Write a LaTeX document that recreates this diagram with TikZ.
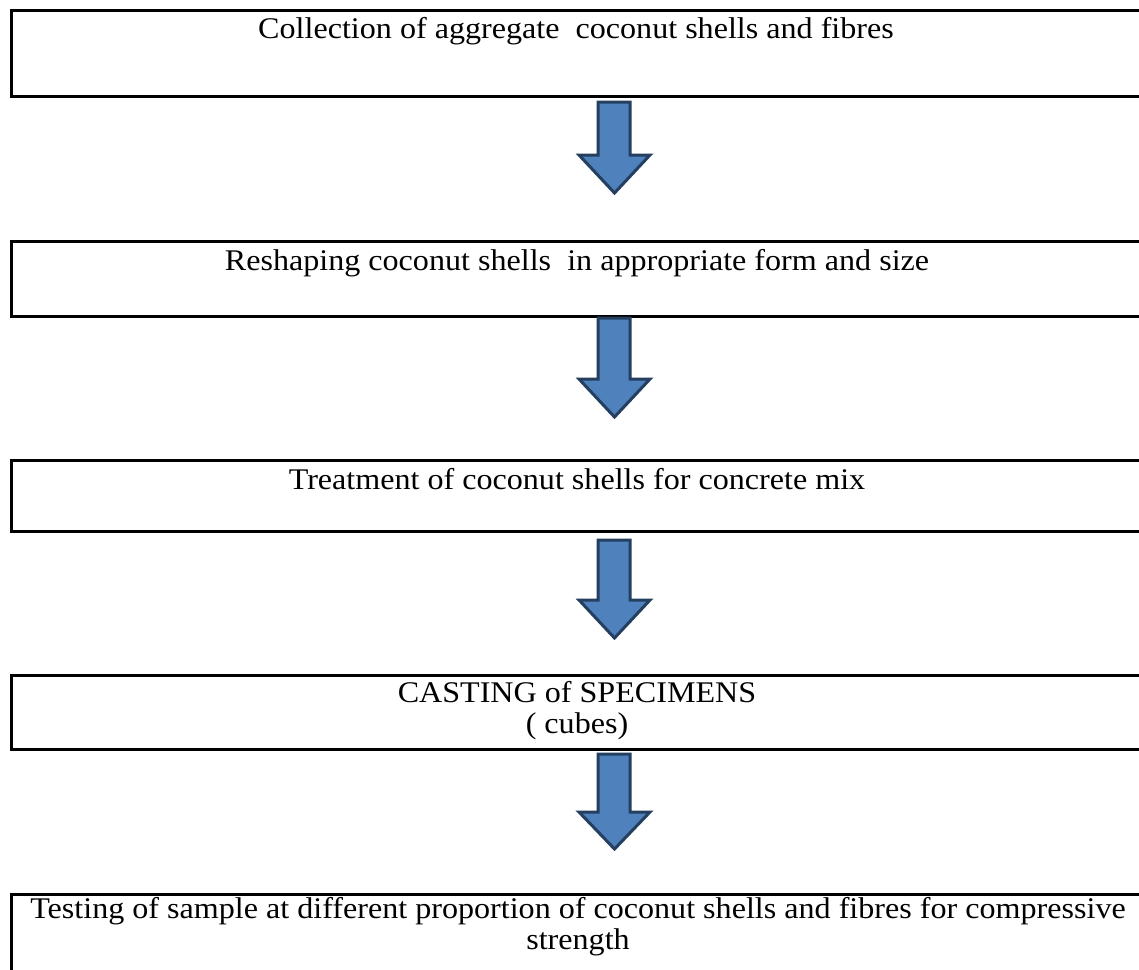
\documentclass[tikz,border=0pt]{standalone}
\usepackage{fontspec}
\setmainfont{Liberation Serif}
\definecolor{arrfill}{HTML}{4F81BD}
\definecolor{arrline}{HTML}{243F60}
\begin{document}
\begin{tikzpicture}[x=1pt,y=-1pt,
  box/.style={draw=black, line width=3pt, rectangle, anchor=north west, inner sep=0pt},
  txt/.style={anchor=base, inner sep=0pt, xscale=1.07, font=\fontsize{30}{26}\selectfont},
  barrow/.style={fill=arrfill, draw=arrline, line width=3pt, line join=miter}]
\useasboundingbox (0,0) rectangle (1139,969);
\clip (0,0) rectangle (1139,969);
\fill[white] (0,0) rectangle (1139,969);
% boxes
\node[box, minimum width=1140pt, minimum height=86pt] (b1) at (10,9) {};
\node[box, minimum width=1140pt, minimum height=75pt] (b2) at (10,240) {};
\node[box, minimum width=1140pt, minimum height=71pt] (b3) at (10,459) {};
\node[box, minimum width=1140pt, minimum height=74pt] (b4) at (10,674) {};
\node[box, minimum width=1140pt, minimum height=90pt] (b5) at (10,893) {};
% texts
\node[txt] (t1) at (576,38) {Collection of aggregate\ \ coconut shells and fibres};
\node[txt] (t2) at (577,270) {Reshaping coconut shells\ \ in appropriate form and size};
\node[txt] (t3) at (577,489) {Treatment of coconut shells for concrete mix};
\node[txt] (t4a) at (577,702) {CASTING of SPECIMENS};
\node[txt] (t4b) at (577,733) {( cubes)};
\node[txt] (t5a) at (578,918) {Testing of sample at different proportion of coconut shells and fibres for compressive};
\node[txt] (t5b) at (578,949) {strength};
% block arrows
\newcommand\blockarrow[3]{%
  \draw[barrow] (598,#1) -- (630,#1) -- (630,#2) -- (650,#2) -- (614.5,#3) -- (579,#2) -- (598,#2) -- cycle;}
\blockarrow{102}{155}{193}
\blockarrow{318}{379}{417}
\blockarrow{540}{600}{638}
\blockarrow{754}{812}{849}
\end{tikzpicture}
\end{document}
